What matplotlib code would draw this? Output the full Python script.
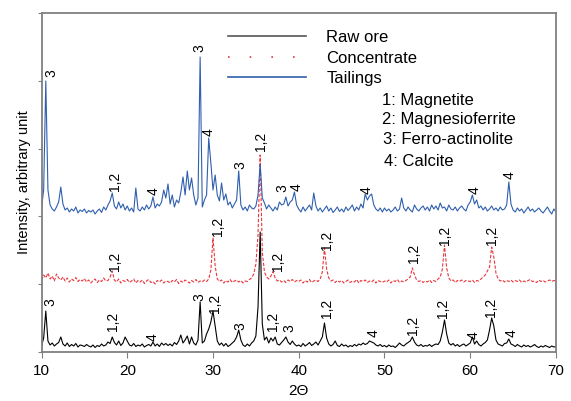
import numpy as np
import matplotlib
matplotlib.use("Agg")
import matplotlib.pyplot as plt
from matplotlib.lines import Line2D

plt.rcParams["font.family"] = ["Liberation Sans", "DejaVu Sans"]

# scan grid: 10-70 deg 2theta, 0.25 deg step
two_theta = np.arange(10.0, 70.001, 0.25)

raw_ore = [
    60, 140, 410, 110, 70, 90, 60, 80, 95, 150, 80, 60, 90, 55, 75, 60, 85, 50, 70, 65,
    55, 75, 60, 50, 70, 45, 65, 55, 80, 60, 70, 100, 85, 150, 95, 70, 110, 65, 90, 150,
    110, 70, 60, 85, 55, 70, 60, 80, 50, 65, 75, 60, 100, 60, 80, 55, 90, 70, 85, 65,
    80, 60, 95, 75, 110, 170, 90, 120, 160, 80, 150, 90, 70, 120, 500, 90, 110, 180, 230, 300,
    410, 260, 110, 70, 90, 60, 85, 55, 70, 90, 110, 150, 220, 120, 70, 55, 80, 60, 90, 110,
    160, 450, 1200, 280, 120, 150, 90, 140, 110, 150, 80, 70, 95, 120, 150, 100, 75, 110, 80, 60,
    70, 55, 85, 60, 75, 95, 65, 80, 100, 70, 110, 150, 290, 140, 80, 60, 75, 110, 65, 55,
    80, 60, 70, 50, 65, 55, 75, 60, 80, 70, 90, 75, 85, 110, 100, 90, 70, 60, 75, 55,
    65, 50, 70, 55, 60, 45, 65, 90, 70, 60, 80, 95, 110, 150, 100, 70, 60, 75, 55, 65,
    60, 75, 55, 70, 80, 75, 110, 200, 320, 180, 90, 70, 85, 60, 75, 55, 70, 80, 60, 75,
    90, 150, 80, 110, 75, 60, 80, 95, 120, 220, 340, 260, 120, 80, 70, 60, 85, 90, 130, 80,
    70, 55, 75, 60, 50, 70, 55, 65, 50, 60, 75, 55, 45, 60, 50, 65, 55, 45, 60, 50,
    55,
]

concentrate = [
    100, 150, 120, 170, 110, 140, 90, 160, 120, 100, 130, 90, 120, 80, 110, 95, 125, 85, 105, 90,
    115, 80, 100, 70, 95, 110, 75, 100, 85, 120, 90, 95, 130, 190, 100, 80, 110, 70, 95, 85,
    105, 75, 90, 110, 70, 95, 80, 100, 65, 90, 105, 75, 85, 60, 95, 80, 100, 70, 90, 85,
    70, 95, 80, 105, 65, 90, 75, 100, 85, 70, 95, 80, 105, 75, 90, 80, 100, 85, 110, 200,
    520, 240, 110, 85, 100, 70, 95, 80, 105, 75, 90, 100, 80, 95, 70, 90, 85, 105, 120, 160,
    260, 550, 1350, 380, 180, 130, 110, 140, 185, 120, 90, 100, 80, 95, 75, 100, 85, 105, 80, 95,
    85, 100, 70, 95, 80, 105, 75, 90, 100, 85, 110, 180, 420, 210, 120, 90, 100, 75, 95, 80,
    95, 70, 85, 100, 75, 90, 80, 105, 70, 95, 85, 100, 75, 90, 80, 100, 70, 95, 85, 75,
    90, 80, 100, 70, 95, 85, 105, 75, 90, 80, 95, 110, 130, 220, 150, 100, 85, 95, 75, 90,
    80, 100, 75, 95, 85, 110, 130, 210, 450, 220, 120, 90, 100, 75, 95, 85, 100, 80, 95, 90,
    85, 100, 75, 95, 90, 110, 130, 150, 190, 230, 430, 330, 170, 110, 90, 100, 80, 95, 85, 100,
    80, 95, 85, 100, 75, 90, 80, 95, 105, 85, 90, 75, 100, 85, 95, 80, 90, 100, 85, 95,
    90,
]

tailings = [
    120, 300, 1390, 300, 150, 110, 90, 130, 180, 330, 160, 100, 120, 80, 110, 90, 130, 70, 100, 85,
    110, 70, 95, 80, 100, 60, 90, 110, 75, 130, 100, 150, 190, 270, 140, 110, 180, 120, 160, 100,
    140, 90, 120, 80, 320, 110, 90, 130, 100, 150, 110, 140, 230, 120, 160, 140, 180, 300, 220, 360,
    160, 250, 130, 200, 170, 280, 430, 250, 490, 300, 420, 250, 150, 220, 1630, 130, 200, 250, 820, 570,
    300, 450, 250, 190, 370, 200, 260, 150, 180, 120, 160, 200, 490, 150, 100, 130, 90, 150, 120, 110,
    140, 250, 560, 220, 170, 110, 150, 120, 90, 130, 100, 180, 150, 160, 230, 140, 180, 200, 280, 150,
    110, 80, 130, 90, 120, 150, 100, 270, 140, 90, 120, 80, 110, 140, 90, 120, 75, 100, 130, 85,
    110, 80, 130, 95, 120, 150, 90, 130, 100, 160, 120, 260, 200, 240, 260, 150, 110, 90, 120, 80,
    120, 90, 110, 80, 100, 130, 90, 110, 220, 120, 90, 130, 100, 80, 150, 110, 90, 120, 140, 100,
    130, 90, 150, 110, 140, 100, 170, 120, 130, 90, 150, 110, 100, 130, 90, 120, 140, 110, 90, 150,
    180, 250, 160, 200, 120, 140, 100, 130, 90, 110, 140, 100, 120, 90, 130, 100, 110, 150, 380, 160,
    100, 80, 120, 90, 110, 70, 100, 130, 90, 110, 80, 100, 120, 90, 70, 100, 130, 90, 60, 110,
    80,
]

# vertical offsets used to stack the patterns
offsets = {"Raw ore": 0, "Concentrate": 620, "Tailings": 1320}

# peak labels: (2theta, intensity, text)
tail_labels = [(11.2, 2790, "3"), (18.57, 1703, "1,2"), (23.03, 1610, "4"), (28.47, 3037, "3"),
               (29.52, 2203, "4"), (33.14, 1870, "3"), (35.58, 2103, "1,2"), (38.15, 1640, "3"),
               (39.7, 1653, "4"), (47.9, 1620, "4"), (60.52, 1620, "4"), (64.6, 1770, "4")]
conc_labels = [(18.57, 903, "1,2"), (30.61, 1253, "1,2"), (37.53, 903, "1,2"), (43.24, 1120, "1,2"),
               (53.41, 987, "1,2"), (57.02, 1170, "1,2"), (62.54, 1170, "1,2")]
raw_labels = [(10.99, 503, "3"), (18.37, 303, "1,2"), (22.96, 147, "4"), (28.39, 547, "3"),
              (30.22, 487, "1,2"), (33.25, 260, "3"), (37.02, 303, "1,2"), (38.96, 237, "3"),
              (43.24, 437, "1,2"), (48.75, 187, "4"), (53.33, 270, "1,2"), (56.83, 437, "1,2"),
              (60.44, 170, "4"), (62.47, 447, "1,2"), (64.8, 187, "4")]

phases = ["1: Magnetite", "2: Magnesioferrite", "3: Ferro-actinolite", "4: Calcite"]

BLUE = "#2f5fae"
RED = "#e8383d"

fig = plt.figure(figsize=(5.71, 4.01), dpi=100)
ax = fig.add_axes([0.0727, 0.1222, 0.9010, 0.8454])

ax.plot(two_theta, np.array(raw_ore) + offsets["Raw ore"], color="black", lw=0.8)
ax.plot(two_theta, np.array(concentrate) + offsets["Concentrate"], color=RED, lw=0.8,
        linestyle=(0, (3, 1.5)))
ax.plot(two_theta, np.array(tailings) + offsets["Tailings"], color=BLUE, lw=0.8)

for labels in (tail_labels, conc_labels, raw_labels):
    for x, y, s in labels:
        ax.text(x, y, s, rotation=90, ha="center", va="center", fontsize=10)

for i, s in enumerate(phases):
    ax.text([49.7, 49.7, 49.8, 50.0][i], [2510, 2320, 2127, 1903][i], s,
            ha="left", va="center", fontsize=12)

handles = [Line2D([], [], color="#555555", lw=1.2),
           Line2D([], [], color=RED, lw=1.2, linestyle=(0, (1, 12))),
           Line2D([], [], color=BLUE, lw=1.2)]
ax.legend(handles, ["Raw ore", "Concentrate", "Tailings"], loc="upper left",
          bbox_to_anchor=(0.3625, 0.95), frameon=False, fontsize=12,
          handlelength=4.7, handletextpad=1.2, labelspacing=0.34,
          borderpad=0, borderaxespad=0)

ax.set_xlim(10, 70)
ax.set_ylim(0, 3390)
ax.set_xticks(np.arange(10, 71, 10))
ax.set_yticks(np.arange(0, 3391, 678))
ax.set_yticklabels([])
ax.tick_params(axis="x", direction="out", length=4, color="#808080", labelsize=11, pad=5)
ax.tick_params(axis="y", direction="out", length=3, color="#808080")
for sp in ax.spines.values():
    sp.set_color("#808080")
    sp.set_linewidth(1.3)

ax.set_xlabel("2\u0398", fontsize=11, labelpad=4)
ax.set_ylabel("Intensity, arbitrary unit", fontsize=10.5, labelpad=1)

fig.savefig("out.png", dpi=100)
